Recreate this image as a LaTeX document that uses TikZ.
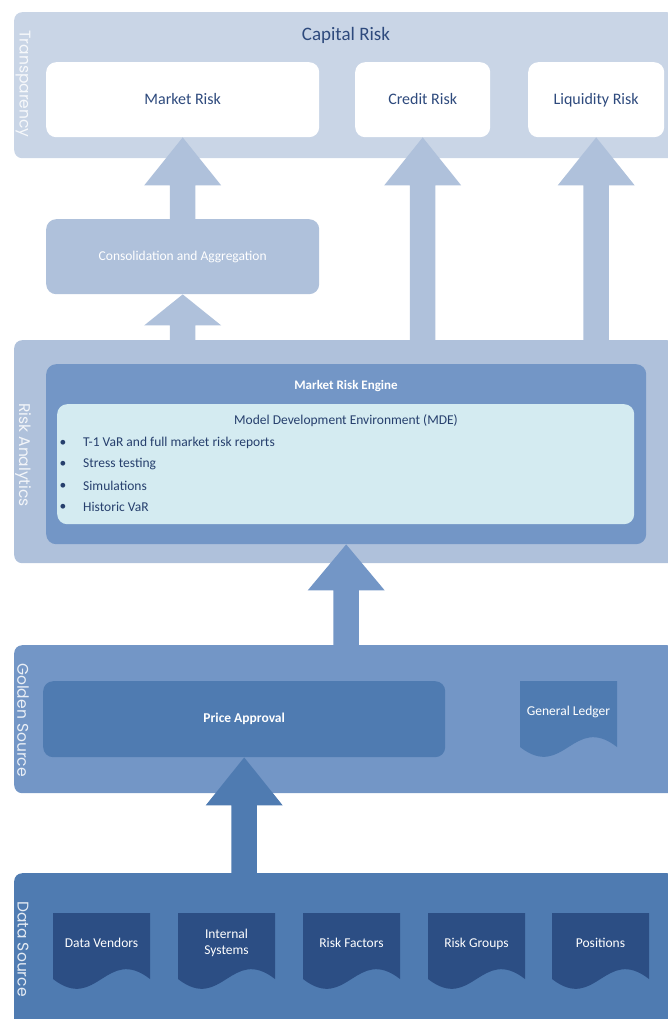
\documentclass[tikz,border=0pt]{standalone}
\usepackage{fontspec}
\setmainfont{Carlito}
\newfontfamily\bandfont{Poppins}
\usetikzlibrary{calc}

\definecolor{bandA}{HTML}{C9D5E6}
\definecolor{lightblue}{HTML}{AFC1DB}
\definecolor{midblue}{HTML}{7396C6}
\definecolor{deepblue}{HTML}{4F7BB1}
\definecolor{navy}{HTML}{2C4E84}
\definecolor{mdefill}{HTML}{D4EBF1}
\definecolor{ink}{HTML}{2E4A7D}
\definecolor{mdeink}{HTML}{263F6D}

\tikzset{
  band/.style={rounded corners=8pt, inner sep=0pt, anchor=north west},
  box/.style={rounded corners=10pt, inner sep=0pt, anchor=north west},
  sidelabel/.style={rotate=-90, text=white, opacity=0.85, inner sep=0pt,
    font=\bandfont\fontsize{15.5}{18}\selectfont},
  lbl/.style={font=\fontsize{13.5}{16}\selectfont, inner sep=0pt},
  riskbox/.style={box, fill=white, text=ink, minimum height=75pt,
    text height=13pt, text depth=2.7pt, font=\fontsize{16}{19}\selectfont},
  doctext/.style={lbl, text=white, align=center},
}

% block arrow from a base point up to a tip point
\newcommand\blockarrow[4]{%
  \fill[#1] let \p1=(#2), \p2=(#3) in
    (\x1-12.75pt,\y1) -- (\x1-12.75pt,\y2-#4pt) -- (\x1-38.5pt,\y2-#4pt)
    -- (\x2,\y2) -- (\x1+38.5pt,\y2-#4pt) -- (\x1+12.75pt,\y2-#4pt)
    -- (\x1+12.75pt,\y1) -- cycle;}

% document shape with a wavy lower edge
\newcommand\docshape[6][anchor=base, at={(48.5,34.5)}]{%
  \begin{scope}[shift={(#3,#4)}]
    \fill[#6] (0,0) -- (97,0) -- (97,66)
      .. controls (53.35,32) and (43.65,100) .. (0,66) -- cycle;
    \node[doctext, #1] (#2) {#5};
  \end{scope}}

\begin{document}
\begin{tikzpicture}[x=1pt, y=-1pt]
\useasboundingbox (0,0) rectangle (667,1019);

% layer bands
\node[band, fill=bandA, minimum width=661pt, minimum height=146pt] (transp) at (14,12) {};
\node[band, fill=lightblue, minimum width=661pt, minimum height=223pt] (risk) at (14,340) {};
\node[band, fill=midblue, minimum width=661pt, minimum height=148pt] (golden) at (14,645) {};
\node[band, fill=deepblue, minimum width=661pt, minimum height=160pt] (data) at (14,873) {};

% layer names
\node[sidelabel] (ltransp) at (23,84) {Transparency};
\node[sidelabel] (lrisk) at (23,455) {Risk Analytics};
\node[sidelabel] (lgolden) at (23,720) {Golden Source};
\node[sidelabel] (ldata) at (23,949) {Data Source};

% transparency
\node[text=ink, font=\fontsize{19}{22}\selectfont, inner sep=0pt] (capital) at (346,35) {Capital Risk};
\node[riskbox, minimum width=273pt] (market) at (46,62) {Market Risk};
\node[riskbox, minimum width=135pt] (credit) at (355,62) {Credit Risk};
\node[riskbox, minimum width=136pt] (liquidity) at (528,62) {Liquidity Risk};

\node[box, fill=lightblue, text=white, minimum width=273pt, minimum height=75pt,
  font=\fontsize{13.5}{16}\selectfont] (cons) at (46,219) {Consolidation and Aggregation};

% risk analytics
\node[box, fill=midblue, minimum width=600pt, minimum height=180pt] (mre) at (46,364) {};
\node[lbl, text=white, font=\bfseries\fontsize{13}{16}\selectfont] (mretitle) at (346,386) {Market Risk Engine};
\node[box, fill=mdefill, minimum width=577pt, minimum height=120pt] (mde) at (57,404) {};
\node[lbl, text=mdeink] (mdetitle) at (346,421) {Model Development Environment (MDE)};
\foreach \t/\y/\n in {T-1 VaR and full market risk reports/443/a, Stress testing/464/b,
    Simulations/486/c, Historic VaR/507/d}{
  \node[lbl, text=mdeink] (dot\n) at (63,\y) {\textbullet};
  \node[lbl, text=mdeink, anchor=west] (item\n) at (83,\y) {\t};
}

% golden source
\node[box, fill=deepblue, text=white, minimum width=402pt, minimum height=76pt,
  font=\bfseries\fontsize{13.5}{16}\selectfont] (price) at (43,681) {Price Approval};
\docshape{ledger}{520}{681}{General Ledger}{deepblue}

% data source
\docshape{vendors}{53}{913}{Data Vendors}{navy}
\docshape[at={(48.5,30)}]{internal}{178}{913}{Internal\\Systems}{navy}
\docshape{factors}{303}{913}{Risk Factors}{navy}
\docshape{groups}{428}{913}{Risk Groups}{navy}
\docshape{positions}{552}{913}{Positions}{navy}

% flows between layers
\blockarrow{lightblue}{cons.north}{market.south}{48}
\blockarrow{lightblue}{cons.south |- risk.north}{cons.south}{31}
\blockarrow{lightblue}{credit.south |- risk.north}{credit.south}{48}
\blockarrow{lightblue}{liquidity.south |- risk.north}{liquidity.south}{48}
\blockarrow{midblue}{mre.south |- golden.north}{mre.south}{46}
\blockarrow{deepblue}{price.south |- data.north}{price.south}{48}
\end{tikzpicture}
\end{document}
